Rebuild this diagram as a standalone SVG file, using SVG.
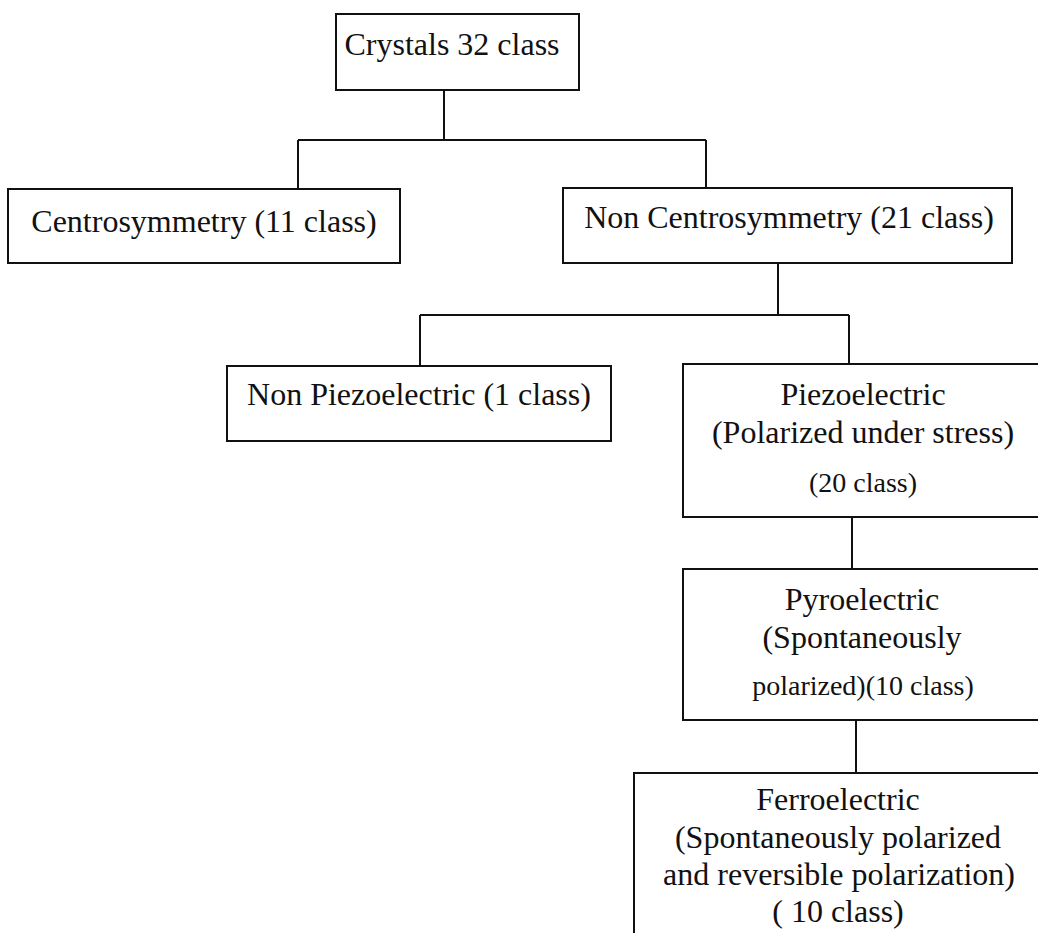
<svg xmlns="http://www.w3.org/2000/svg" width="1038" height="933" viewBox="0 0 1038 933">
<style>
.box{fill:#fff;stroke:#111;stroke-width:2}
.t{font-family:"Liberation Serif","Times New Roman",serif;font-size:32px;fill:#111;text-anchor:middle}
.s{font-size:28px}
.c{fill:none;stroke:#111;stroke-width:2}
</style>
<rect width="1038" height="933" fill="#fff"/>
<g id="connectors">
<path class="c" d="M444 90V140M298 140H706M298 140V189M706 140V188"/>
<path class="c" d="M778 263V315M420 315H849M420 315V366M849 315V365"/>
<path class="c" d="M852 517V569"/>
<path class="c" d="M856 720V773"/>
</g>
<g id="crystals">
<rect class="box" x="336" y="14" width="243" height="76"/>
<text class="t" x="452" y="55">Crystals 32 class</text>
</g>
<g id="centro">
<rect class="box" x="8" y="189" width="392" height="74"/>
<text class="t" x="204" y="232">Centrosymmetry (11 class)</text>
</g>
<g id="noncentro">
<rect class="box" x="563" y="188" width="449" height="75"/>
<text class="t" x="789" y="228">Non Centrosymmetry (21 class)</text>
</g>
<g id="nonpiezo">
<rect class="box" x="227" y="366" width="384" height="75"/>
<text class="t" x="419" y="405">Non Piezoelectric (1 class)</text>
</g>
<g id="piezo">
<rect class="box" x="683" y="364" width="370" height="153"/>
<text class="t" x="863" y="405">Piezoelectric</text>
<text class="t" x="863" y="443">(Polarized under stress)</text>
<text class="t s" x="863" y="492">(20 class)</text>
</g>
<g id="pyro">
<rect class="box" x="683" y="569" width="370" height="151"/>
<text class="t" x="862" y="610">Pyroelectric</text>
<text class="t" x="862" y="648">(Spontaneously</text>
<text class="t s" x="863" y="695">polarized)(10 class)</text>
</g>
<g id="ferro">
<rect class="box" x="634" y="773" width="420" height="180"/>
<text class="t" x="838" y="810">Ferroelectric</text>
<text class="t" x="838" y="848">(Spontaneously polarized</text>
<text class="t" x="839" y="885">and reversible polarization)</text>
<text class="t" x="838" y="922">( 10 class)</text>
</g>
</svg>
